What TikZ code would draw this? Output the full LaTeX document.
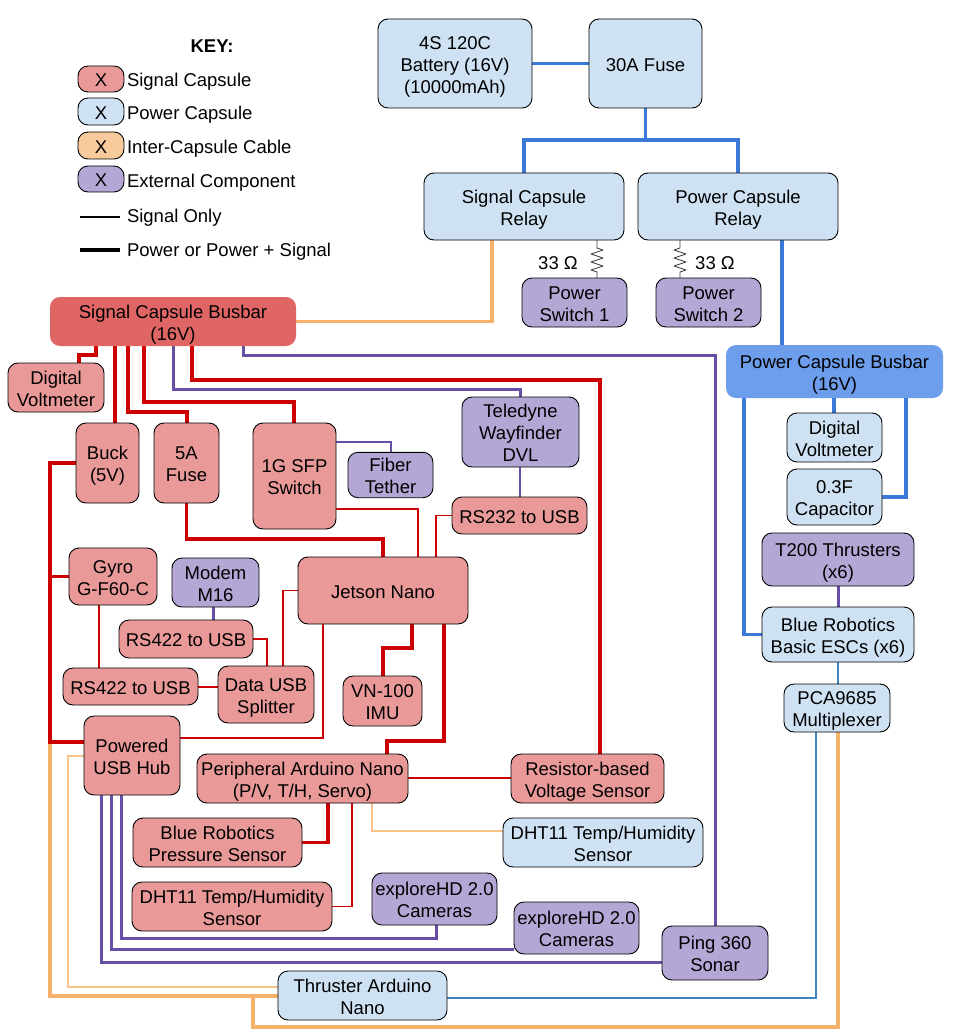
\documentclass[tikz,border=0pt]{standalone}
\usepackage{fontspec}
\setmainfont{Liberation Sans}
\pgfdeclarelayer{bg}
\pgfsetlayers{bg,main}
\definecolor{sigfill}{HTML}{EA9999}
\definecolor{powfill}{HTML}{CFE2F3}
\definecolor{extfill}{HTML}{B4A7D6}
\definecolor{cabfill}{HTML}{F9CB9C}
\definecolor{sigbus}{HTML}{E06666}
\definecolor{powbus}{HTML}{6D9EEB}
\definecolor{redl}{HTML}{CC0000}
\definecolor{purl}{HTML}{674EA7}
\definecolor{bluel}{HTML}{3C78D8}
\definecolor{bluethin}{HTML}{3D85C6}
\definecolor{orl}{HTML}{F6B26B}
\definecolor{orthin}{HTML}{F8C28A}
\newcommand\tstrut{\rule[-3.9pt]{0pt}{23.4pt}}
\newcommand\bstrut{\rule[-3.9pt]{0pt}{3.9pt}}
\newcommand\mkbox[7]{\node[#6, minimum width={(#4-#2)*1pt}, minimum height={(#5-#3)*1pt}] (#1) at ({(#2+#4)/2},{(#3+#5)/2}) {\tstrut#7\bstrut};}
\begin{document}
\begin{tikzpicture}[x=1pt,y=-1pt,
  every node/.style={font=\fontsize{18.5}{22}\selectfont, align=center, inner sep=0pt, outer sep=0pt},
  box/.style={draw=black, line width=0.9pt, rounded corners=10pt},
  sig/.style={box, fill=sigfill},
  pw/.style={box, fill=powfill},
  ext/.style={box, fill=extfill},
  cab/.style={box, fill=cabfill},
  sbusst/.style={fill=sigbus, rounded corners=10pt},
  pbusst/.style={fill=powbus, rounded corners=10pt},
  rk/.style={draw=redl, line width=3.5pt},
  rn/.style={draw=redl, line width=1.5pt},
  pk/.style={draw=purl, line width=3pt},
  pn/.style={draw=purl, line width=1.5pt},
  bk/.style={draw=bluel, line width=3.5pt},
  bn/.style={draw=bluethin, line width=1.5pt},
  ok/.style={draw=orl, line width=3.5pt},
  on/.style={draw=orthin, line width=2pt},
  res/.style={draw=black!75, line width=0.9pt, line join=round},
  keyline/.style={draw=black}]
\useasboundingbox (0,0) rectangle (965,1032);

% ---------- key ----------
\node[font=\fontsize{18.5}{22}\selectfont\bfseries] (keyt) at (212,45) {\tstrut KEY:};
\mkbox{k1}{78}{66}{124}{92}{sig}{X}
\mkbox{k2}{78}{98}{124}{125}{pw}{X}
\mkbox{k3}{78}{132}{124}{159}{cab}{X}
\mkbox{k4}{78}{166}{124}{192}{ext}{X}
\node[anchor=west] (k1t) at (127,79) {\tstrut Signal Capsule};
\node[anchor=west] (k2t) at (127,112) {\tstrut Power Capsule};
\node[anchor=west] (k3t) at (127,146) {\tstrut Inter-Capsule Cable};
\node[anchor=west] (k4t) at (127,180) {\tstrut External Component};
\coordinate (kl1a) at (80,217);
\coordinate (kl1b) at (120,217);
\coordinate (kl2a) at (80,250);
\coordinate (kl2b) at (120,250);
\draw[keyline, line width=1.5pt] (kl1a) -- (kl1b);
\draw[keyline, line width=4pt] (kl2a) -- (kl2b);
\node[anchor=west] (k5t) at (127,215) {\tstrut Signal Only};
\node[anchor=west] (k6t) at (127,249) {\tstrut Power or Power + Signal};

% ---------- boxes ----------
\mkbox{bat}{378}{19}{532}{108}{pw}{4S 120C\\Battery (16V)\\(10000mAh)}
\mkbox{fuse}{589}{19}{702}{108}{pw}{30A Fuse}
\mkbox{srel}{424}{173}{624}{240}{pw}{Signal Capsule\\Relay}
\mkbox{prel}{638}{173}{838}{240}{pw}{Power Capsule\\Relay}
\mkbox{sw1}{522}{278}{627}{327}{ext}{Power\\Switch 1}
\mkbox{sw2}{656}{278}{761}{327}{ext}{Power\\Switch 2}
\mkbox{sbus}{50}{297}{296}{346}{sbusst}{Signal Capsule Busbar\\(16V)}
\mkbox{pbus}{726}{345}{943}{398}{pbusst}{Power Capsule Busbar\\(16V)}
\mkbox{sdvm}{8}{363}{104}{412}{sig}{Digital\\Voltmeter}
\mkbox{buck}{76}{423}{139}{503}{sig}{Buck\\(5V)}
\mkbox{fusefive}{154}{423}{219}{503}{sig}{5A\\Fuse}
\mkbox{sfp}{253}{423}{336}{529}{sig}{1G SFP\\Switch}
\mkbox{fiber}{348}{453}{433}{497}{ext}{Fiber\\Tether}
\mkbox{dvl}{462}{397}{579}{467}{ext}{Teledyne\\Wayfinder\\DVL}
\mkbox{rstwo}{452}{497}{587}{534}{sig}{RS232 to USB}
\mkbox{jet}{298}{557}{468}{624}{sig}{Jetson Nano}
\mkbox{imu}{343}{676}{422}{726}{sig}{VN-100\\IMU}
\mkbox{gyro}{69}{548}{157}{605}{sig}{Gyro\\G-F60-C}
\mkbox{modem}{172}{558}{259}{607}{ext}{Modem\\M16}
\mkbox{rsa}{119}{620}{253}{658}{sig}{RS422 to USB}
\mkbox{rsb}{63}{668}{198}{705}{sig}{RS422 to USB}
\mkbox{split}{218}{666}{314}{723}{sig}{Data USB\\Splitter}
\mkbox{hub}{84}{716}{180}{795}{sig}{Powered\\USB Hub}
\mkbox{pard}{197}{754}{408}{803}{sig}{Peripheral Arduino Nano\\(P/V, T/H, Servo)}
\mkbox{press}{133}{818}{302}{867}{sig}{Blue Robotics\\Pressure Sensor}
\mkbox{dhts}{132}{882}{332}{931}{sig}{DHT11 Temp/Humidity\\Sensor}
\mkbox{camone}{372}{873}{497}{925}{ext}{exploreHD 2.0\\Cameras}
\mkbox{camtwo}{514}{902}{639}{954}{ext}{exploreHD 2.0\\Cameras}
\mkbox{ping}{662}{926}{768}{980}{ext}{Ping 360\\Sonar}
\mkbox{rvs}{511}{754}{664}{803}{sig}{Resistor-based\\Voltage Sensor}
\mkbox{dhtp}{503}{818}{703}{867}{pw}{DHT11 Temp/Humidity\\Sensor}
\mkbox{tard}{278}{971}{447}{1020}{pw}{Thruster Arduino\\Nano}
\mkbox{pdvm}{787}{413}{882}{462}{pw}{Digital\\Voltmeter}
\mkbox{cap}{787}{469}{882}{525}{pw}{0.3F\\Capacitor}
\mkbox{tthr}{762}{533}{914}{586}{ext}{T200 Thrusters\\(x6)}
\mkbox{esc}{762}{607}{914}{662}{pw}{Blue Robotics\\Basic ESCs (x6)}
\mkbox{pca}{784}{684}{890}{732}{pw}{PCA9685\\Multiplexer}
\node (rlone) at (558,262) {\tstrut 33 Ω};
\node (rltwo) at (715,262) {\tstrut 33 Ω};

% ---------- connectors ----------
\begin{pgfonlayer}{bg}
% power distribution
\draw[bk] (bat.east) -- (fuse.west);
\draw[bk] (fuse.south) -- (fuse.south |- 0,140);
\draw[bk] (srel.north -| 524,0) -- (524,140) -- (738,140) -- (prel.north -| 738,0);
\draw[bk] (prel.south -| 782,0) -- (pbus.north -| 782,0);
\draw[ok] (srel.south -| 492,0) |- (sbus.east);
\draw[res] (srel.south -| 597,0) -- (597,248) -- (603,250) -- (591,254) -- (603,258) -- (591,262) -- (603,266) -- (591,270) -- (597,272) -- (sw1.north -| 597,0);
\draw[res] (prel.south -| 680,0) -- (680,248) -- (674,250) -- (686,254) -- (674,258) -- (686,262) -- (674,266) -- (686,270) -- (680,272) -- (sw2.north -| 680,0);
% power capsule
\draw[bk] (pbus.south -| 834,0) -- (pdvm.north -| 834,0);
\draw[bk] (pbus.south -| 906,0) |- (cap.east);
\draw[bk] (pbus.south -| 744,0) |- (esc.west);
\draw[pk] (tthr.south) -- (esc.north);
\draw[bn] (esc.south) -- (pca.north -| esc.south);
\draw[bn] (pca.south -| 816,0) |- (tard.east |- 0,998);
\draw[ok] (pca.south -| 838,0) -- (838,1027) -- (253,1027) -- (253,996);
% signal busbar
\draw[rk] (sbus.south -| 96,0) -- (96,355) -- (79,355) -- (sdvm.north -| 79,0);
\draw[rk] (sbus.south -| 115,0) -- (buck.north -| 115,0);
\draw[rk] (sbus.south -| 128,0) |- (187,412) -- (fusefive.north -| 187,0);
\draw[rk] (sbus.south -| 144,0) |- (294,402) -- (sfp.north -| 294,0);
\draw[rk] (sbus.south -| 192,0) |- (600,380) -- (rvs.north -| 600,0);
\draw[pk] (sbus.south -| 173,0) |- (520,389) -- (dvl.north -| 520,0);
\draw[pk] (sbus.south -| 243,0) |- (715,355) -- (ping.north -| 715,0);
% jetson area
\draw[pn] (sfp.east |- 0,442) -| (fiber.north -| 391,0);
\draw[rn] (sfp.east |- 0,509) -| (jet.north -| 418,0);
\draw[rn] (rstwo.west) -| (jet.north -| 436,0);
\draw[pn] (dvl.south -| 520,0) -- (rstwo.north -| 520,0);
\draw[rk] (fusefive.south) |- (383,539) -- (jet.north -| 383,0);
\draw[rk] (jet.south -| 412,0) |- (383,648) -- (imu.north -| 383,0);
\draw[rk] (jet.south -| 444,0) |- (387,741) -- (pard.north -| 387,0);
\draw[rn] (jet.west) -| (split.north -| 283,0);
\draw[rn] (jet.south -| 323,0) |- (hub.east |- 0,738);
\draw[rn] (rsa.east) -| (split.north -| 267,0);
\draw[pk] (modem.south -| 213,0) -- (rsa.north -| 213,0);
\draw[rn] (gyro.south -| 99,0) -- (rsb.north -| 99,0);
\draw[rn] (rsb.east |- 0,687) -- (split.west |- 0,687);
% buck / hub / thruster arduino
\draw[ok] (50,742) -- (50,996) -- (tard.west |- 0,996);
\draw[rk] (buck.west) -- (50,463) -- (50,742) -- (hub.west |- 0,742);
\draw[rk] (gyro.west) -- (gyro.west -| 50,0);
\draw[on] (hub.west |- 0,756) -- (68,756) -- (68,987) -- (tard.west |- 0,987);
\draw[pk] (hub.south -| 101,0) |- (ping.west |- 0,962);
\draw[pk] (hub.south -| 111,0) |- (camtwo.west |- 0,949);
\draw[pk] (hub.south -| 121,0) |- (436,938) -- (camone.south -| 436,0);
% peripheral arduino
\draw[on] (pard.south -| 372,0) |- (dhtp.west |- 0,831);
\draw[rk] (pard.south -| 328,0) |- (press.east);
\draw[rn] (pard.south -| 352,0) |- (dhts.east);
\draw[rn] (pard.east |- 0,778) -- (rvs.west |- 0,778);
\end{pgfonlayer}
\end{tikzpicture}
\end{document}
